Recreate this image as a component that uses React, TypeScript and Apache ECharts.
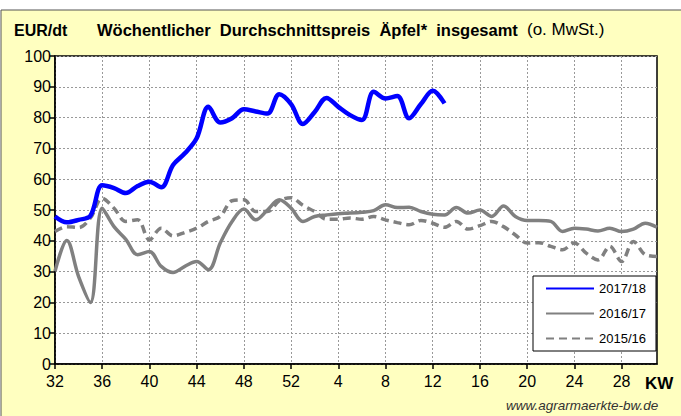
import React, { useEffect, useRef } from "react";
import * as echarts from "echarts";

const weeks: string[] = [
  "32","33","34","35","36","37","38","39","40","41","42","43","44","45","46","47","48","49","50","51","52",
  "1","2","3","4","5","6","7","8","9","10","11","12","13","14","15","16","17","18","19","20",
  "21","22","23","24","25","26","27","28","29","30","31",
];

const s2017: (number | null)[] = [
  47.9, 46, 46.8, 48.1, 58, 57.1, 55.5, 57.8, 59.2, 57.4, 64.6, 68.4, 73.3, 83.5, 78.4, 79.8, 82.7, 82, 81.3,
  87.6, 84.4, 77.9, 81.8, 86.4, 83.5, 80.8, 79.2, 88.4, 86.2, 87, 79.8, 84.4, 88.7, 84.6,
];

const s2016: number[] = [
  30.1, 40.1, 28.4, 20, 50.6, 44.6, 40.5, 35.5, 36.5, 31.7, 29.7, 31.7, 33.3, 30.6, 39.3, 46.3, 50.3, 46.8, 50,
  53.3, 50.6, 46.3, 47.9, 48.4, 48.8, 49, 49.3, 49.8, 51.7, 50.8, 50.9, 49.5, 48.6, 48.4, 50.8, 49, 50, 47.9,
  51.3, 47.9, 46.6, 46.6, 46.3, 43, 44.1, 43.8, 43.2, 44.1, 43, 43.8, 45.7, 44.4,
];

const s2015: number[] = [
  43, 44.6, 44.3, 47.4, 53.8, 50.6, 46.3, 46.8, 40.3, 44.1, 41.6, 42.7, 44.1, 46.3, 47.9, 53, 53.3, 49.5, 49.5,
  53, 54, 51.5, 49.5, 47, 47, 47.4, 47, 47.9, 46.8, 45.9, 45.2, 46.6, 45.7, 44.4, 46.3, 43.8, 44.9, 46.3, 44.6,
  41.9, 39.3, 39.4, 38.2, 37.1, 39.3, 36, 33.8, 38.2, 33.3, 39.8, 35.5, 34.9,
];

const seriesNames = ["2017/18", "2016/17", "2015/16"];

export default function App() {
  const ref = useRef<HTMLDivElement>(null);
  useEffect(() => {
    if (!ref.current) return;
    const chart = echarts.init(ref.current, undefined, { renderer: "svg" });
    const font = "'Liberation Sans', Arial, sans-serif";
    chart.setOption({
      animation: false,
      backgroundColor: "#ffffff",
      textStyle: { fontFamily: font },
      graphic: [
        {
          type: "rect",
          z: -10,
          shape: { x: 1, y: 10, width: 690, height: 420 },
          style: { fill: "#FFFFC0", stroke: "#555", lineWidth: 1 },
        },
        {
          type: "text",
          left: 14,
          top: 22,
          style: { text: "EUR/dt", font: `bold 16px ${font}`, fill: "#000" },
        },
        {
          type: "text",
          left: 97,
          top: 21,
          style: {
            text: "Wöchentlicher  Durchschnittspreis  Äpfel*  insgesamt",
            font: `bold 16.5px ${font}`,
            fill: "#000",
          },
        },
        {
          type: "text",
          left: 527,
          top: 21,
          style: { text: "(o. MwSt.)", font: `17px ${font}`, fill: "#000" },
        },
        {
          type: "text",
          left: 645,
          top: 375,
          style: { text: "KW", font: `bold 17px ${font}`, fill: "#000" },
        },
        {
          type: "text",
          left: 506,
          top: 398,
          style: { text: "www.agrarmaerkte-bw.de", font: `italic 13.5px ${font}`, fill: "#333" },
        },
      ],
      grid: {
        left: 55,
        right: 24,
        top: 56,
        bottom: 52,
        show: true,
        backgroundColor: "#ffffff",
        borderColor: "#000",
        borderWidth: 1.5,
      },
      legend: {
        data: seriesNames,
        orient: "vertical",
        left: 533,
        top: 276,
        width: 118,
        height: 78,
        padding: [6, 10, 6, 12],
        itemWidth: 48,
        itemHeight: 14,
        itemGap: 12,
        itemStyle: { opacity: 0 },
        backgroundColor: "#ffffff",
        borderColor: "#000",
        borderWidth: 1,
        textStyle: { fontSize: 13, color: "#000", fontFamily: font },
      },
      xAxis: {
        type: "category",
        data: weeks,
        boundaryGap: false,
        axisLine: { lineStyle: { color: "#000", width: 1.5 } },
        axisTick: { interval: 3, length: 5, lineStyle: { color: "#000", width: 1.5 } },
        axisLabel: { interval: 3, color: "#000", fontSize: 16, margin: 9, fontFamily: font },
        splitLine: { show: true, interval: 3, lineStyle: { color: "#999", type: [2, 2], width: 1 } },
      },
      yAxis: {
        type: "value",
        min: 0,
        max: 100,
        interval: 10,
        axisLine: { show: true, lineStyle: { color: "#000", width: 1.5 } },
        axisTick: { show: true, length: 5, lineStyle: { color: "#000", width: 1.5 } },
        axisLabel: { color: "#000", fontSize: 16, margin: 4, fontFamily: font },
        splitLine: { show: true, lineStyle: { color: "#999", type: [2, 2], width: 1 } },
      },
      series: [
        {
          name: "2015/16",
          type: "line",
          data: s2015,
          smooth: 0.35,
          symbol: "none",
          z: 2,
          lineStyle: { color: "#808080", width: 3.5, type: [8, 5] },
          itemStyle: { color: "#808080" },
        },
        {
          name: "2016/17",
          type: "line",
          data: s2016,
          smooth: 0.35,
          symbol: "none",
          z: 3,
          lineStyle: { color: "#808080", width: 3.5 },
          itemStyle: { color: "#808080" },
        },
        {
          name: "2017/18",
          type: "line",
          data: s2017,
          smooth: 0.35,
          symbol: "none",
          z: 4,
          lineStyle: { color: "#0000FF", width: 4.5 },
          itemStyle: { color: "#0000FF" },
        },
      ],
    });
    return () => chart.dispose();
  }, []);
  return (
    <div
      ref={ref}
      style={{ position: "fixed", left: 0, top: 0, width: 681, height: 416 }}
    />
  );
}
